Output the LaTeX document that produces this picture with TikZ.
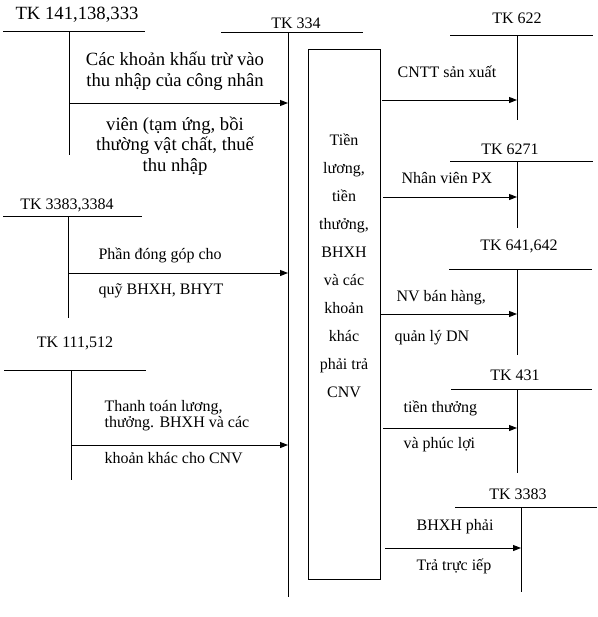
\documentclass[tikz,border=0pt]{standalone}
\usepackage{fontspec}
\setmainfont{Liberation Serif}
\usepackage{tikz}
\usetikzlibrary{positioning, arrows.meta}

\begin{document}
\begin{tikzpicture}[x=0.75pt, y=-0.75pt,
    acc/.style={font=\fontsize{12}{14}\selectfont, inner sep=1pt},
    accbig/.style={font=\fontsize{14}{16}\selectfont, inner sep=1pt},
    txt/.style={font=\fontsize{12}{12}\selectfont, inner sep=1pt, anchor=west, align=left},
    bigtxt/.style={font=\fontsize{14}{15.5}\selectfont, inner sep=1pt, align=center},
    tline/.style={line width=0.75pt},
    flow/.style={line width=0.75pt, -{Triangle[length=6pt, width=4.5pt]}}]
  \useasboundingbox (0,0) rectangle (598,617);

  % left accounts
  \coordinate (k141) at (69,32);
  \coordinate (k3384) at (68,216);
  \coordinate (k512) at (71,370);
  \draw[tline] (k141) +(-66,0) -- +(76,0);
  \draw[tline] (k141) -- +(0,123);
  \draw[tline] (k3384) +(-65,0) -- +(74,0);
  \draw[tline] (k3384) -- +(0,102);
  \draw[tline] (k512) +(-67,0) -- +(75,0);
  \draw[tline] (k512) -- +(0,110);
  \node[accbig] (lbl141) at (77,15) {TK 141,138,333};
  \node[acc] (lbl3384) at (67,205) {TK 3383,3384};
  \node[acc] (lbl512) at (75,343) {TK 111,512};

  % TK 334
  \coordinate (k334) at (288,33);
  \draw[tline] (k334) +(-67,0) -- +(75,0);
  \draw[tline] (k334) -- +(0,564);
  \node[acc] (lbl334) at (296,23) {TK 334};
  \node[draw, line width=0.75pt, inner sep=0pt, minimum width=54pt,
        minimum height=396.75pt] (box) at (344,314.5) {};
  \node[font=\fontsize{12}{21}\selectfont, align=center, inner sep=0pt]
       (boxtxt) at (344,266)
       {Tiền\\lương,\\tiền\\thưởng,\\BHXH\\và các\\khoản\\khác\\phải trả\\CNV};

  % right accounts
  \coordinate (k622) at (517,36);
  \coordinate (k6271) at (517,161);
  \coordinate (k642) at (517,269);
  \coordinate (k431) at (517,389);
  \coordinate (k3383) at (521,507);
  \draw[tline] (k622) +(-67,0) -- +(76,0);
  \draw[tline] (k622) -- +(0,84);
  \draw[tline] (k6271) +(-67,0) -- +(76,0);
  \draw[tline] (k6271) -- +(0,67);
  \draw[tline] (k642) +(-68,0) -- +(75,0);
  \draw[tline] (k642) -- +(0,86);
  \draw[tline] (k431) +(-66,0) -- +(75,0);
  \draw[tline] (k431) -- +(0,84);
  \draw[tline] (k3383) +(-66,0) -- +(76,0);
  \draw[tline] (k3383) -- +(0,85);
  \node[acc] (lbl622) at (517,18) {TK 622};
  \node[acc] (lbl6271) at (510,149) {TK 6271};
  \node[acc] (lbl642) at (519,246) {TK 641,642};
  \node[acc] (lbl431) at (515,375) {TK 431};
  \node[acc] (lbl3383) at (518,494) {TK 3383};

  % flows into TK 334
  \coordinate (a1) at (69,103);
  \coordinate (a2) at (68,273);
  \coordinate (a3) at (71,445);
  \draw[flow] (a1) -- (a1 -| k334);
  \draw[flow] (a2) -- (a2 -| k334);
  \draw[flow] (a3) -- (a3 -| k334);
  \node[bigtxt] (t1a) at (175,71) {Các khoản khấu trừ vào\\thu nhập của công nhân};
  \node[bigtxt] (t1b) at (175,146) {viên (tạm ứng, bồi\\thường vật chất, thuế\\thu nhập};
  \node[txt] (t2a) at (97,255) {Phần đóng góp cho};
  \node[txt] (t2b) at (97,291) {quỹ BHXH, BHYT};
  \node[txt] (t3a) at (103,416) {Thanh toán lương,\\thưởng. BHXH và các};
  \node[txt] (t3b) at (103,458) {khoản khác cho CNV};

  % flows out of TK 334
  \coordinate (b1) at (382,100);
  \coordinate (b2) at (383,197);
  \coordinate (b3) at (380,314);
  \coordinate (b4) at (383,428);
  \coordinate (b5) at (385,548);
  \draw[flow] (b1) -- (b1 -| k622);
  \draw[flow] (b2) -- (b2 -| k6271);
  \draw[flow] (b3) -- (b3 -| k642);
  \draw[flow] (b4) -- (b4 -| k431);
  \draw[flow] (b5) -- (b5 -| k3383);
  \node[txt] (s1) at (396,72) {CNTT sản xuất};
  \node[txt] (s2) at (400,178) {Nhân viên PX};
  \node[txt] (s3a) at (395,298) {NV bán hàng,};
  \node[txt] (s3b) at (393,338) {quản lý DN};
  \node[txt] (s4a) at (402,408) {tiền thưởng};
  \node[txt] (s4b) at (402,445) {và phúc lợi};
  \node[txt] (s5a) at (415,527) {BHXH phải};
  \node[txt] (s5b) at (415,566) {Trả trực iếp};
\end{tikzpicture}
\end{document}
